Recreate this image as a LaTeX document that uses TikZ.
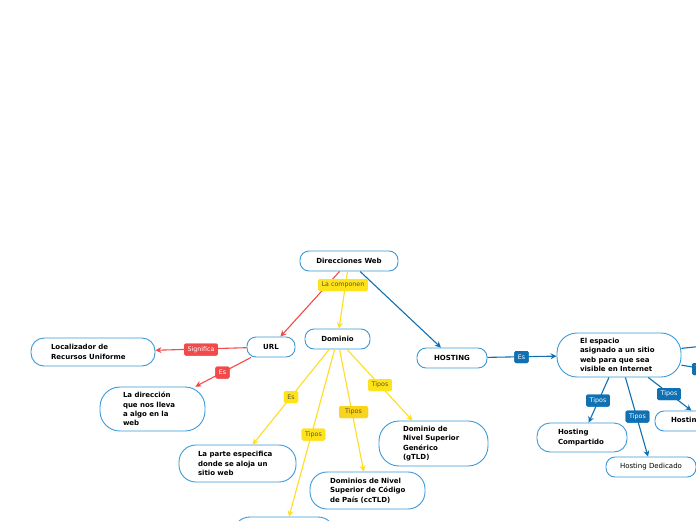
\documentclass[tikz,border=0pt]{standalone}
\usepackage{fontspec}
\setmainfont{DejaVu Sans}
\usetikzlibrary{arrows.meta}
\definecolor{bord}{HTML}{3A9AD9}
\definecolor{cred}{HTML}{F24A4A}
\definecolor{cyel}{HTML}{FFDD1F}
\definecolor{cyellab}{HTML}{FFE31A}
\definecolor{cyeldark}{HTML}{F8D41C}
\definecolor{cyeltext}{HTML}{5C5430}
\definecolor{cblue}{HTML}{0F71B3}
\tikzset{
  box/.style={draw=bord, line width=0.9pt, fill=white, inner ysep=0pt,
    font=\bfseries\fontsize{7}{9.3}\selectfont},
  boxr/.style={box, font=\fontsize{7}{9.3}\selectfont},
  lab/.style={rectangle, rounded corners=1.5pt, inner xsep=3.5pt, inner ysep=0pt,
    minimum height=12pt, font=\fontsize{6.3}{7}\selectfont},
  labred/.style={lab, fill=cred, text=white},
  labyel/.style={lab, fill=cyellab, text=cyeltext},
  labyeld/.style={lab, fill=cyeldark, text=cyeltext},
  labblue/.style={lab, fill=cblue, text=white},
  conn/.style={line width=1.1pt, -{Stealth[length=6pt,width=6pt]}},
  redc/.style={conn, draw=cred, color=cred},
  yelc/.style={conn, draw=cyel, color=cyel},
  bluec/.style={conn, draw=cblue, color=cblue},
}
\begin{document}
\begin{tikzpicture}[x=1pt,y=-1pt]
\useasboundingbox (0,0) rectangle (696,520);
\clip (0,0) rectangle (696,520);
\fill[white] (0,0) rectangle (696,520);

% nodes
\node[box, rounded corners=9pt, minimum width=98pt, minimum height=20pt] (dw) at (349,261) {Direcciones Web};
\node[box, rounded corners=9pt, minimum width=48pt, minimum height=20pt] (url) at (271,347) {URL};
\node[box, rounded corners=9pt, minimum width=65pt, minimum height=20pt] (dom) at (337.5,339) {Dominio};
\node[box, rounded corners=9pt, minimum width=70pt, minimum height=20pt] (host) at (452,358) {HOSTING};
\node[box, rounded corners=13pt, minimum height=28pt, inner xsep=20pt, text width=84pt, align=left] (loc) at (93,352) {Localizador de\\Recursos~Uniforme};
\node[box, rounded corners=20pt, minimum height=44pt, inner xsep=23pt, text width=59pt, align=left] (ladir) at (152.5,409) {La dirección\\que~nos~lleva\\a~algo~en~la\\web};
\node[box, rounded corners=17pt, minimum height=37pt, inner xsep=19pt, text width=79pt, align=left] (parte) at (237.5,463.5) {La~parte~especifica\\donde~se~aloja~un\\sitio web};
\node[box, rounded corners=17pt, minimum height=37pt, inner xsep=20pt, text width=75pt, align=left] (cctld) at (367.5,490.5) {Dominios~de~Nivel\\Superior~de~Código\\de~País~(ccTLD)};
\node[box, rounded corners=20pt, minimum height=45pt, inner xsep=24pt, text width=61pt, align=left] (gtld) at (433.5,443.5) {Dominio de\\Nivel~Superior\\Genérico\\(gTLD)};
\node[box, rounded corners=17pt, minimum width=102pt, minimum height=36pt] (bot) at (284,535) {};
\node[box, rounded corners=20pt, minimum height=44pt, inner xsep=23pt, text width=78pt, align=left] (esp) at (619,355) {El espacio\\asignado~a~un~sitio\\web~para~que~sea\\visible~en~Internet};
\node[box, rounded corners=13pt, minimum height=29pt, inner xsep=21pt, text width=48pt, align=left] (comp) at (582,437.5) {Hosting\\Compartido};
\node[boxr, rounded corners=9pt, minimum width=90pt, minimum height=20pt] (ded) at (651,467) {Hosting Dedicado};
\node[box, rounded corners=9pt, minimum height=20pt, inner xsep=16pt, text width=68pt, align=left] (hostx) at (705,421) {Hosting};
\coordinate (offA) at (760,340);
\coordinate (offB) at (760,378);

% labels
\node[labyel] (lcomp) at (343,285) {La componen};
\node[labred] (lsig) at (201,349.5) {Significa};
\node[labred] (les1) at (222.5,372.5) {Es};
\node[labyel] (les2) at (291,397) {Es};
\node[labyel] (lt1) at (313.5,434.5) {Tipos};
\node[labyeld, minimum width=29pt] (lt2) at (353.5,412) {Tipos};
\node[labyel] (lt3) at (380,385) {Tipos};
\node[labblue] (les3) at (521.5,357) {Es};
\node[labblue] (lt4) at (598,400.5) {Tipos};
\node[labblue] (lt5) at (637.5,416.5) {Tipos};
\node[labblue] (lt6) at (669,394) {Tipos};
\node[labblue] (lt7) at (704,369) {Tipos};

% connectors
\draw[redc] (dw) -- (url);
\draw[yelc] (dw) -- (dom);
\draw[bluec] (dw) -- (host);
\draw[redc] (url) -- (loc);
\draw[redc] (url) -- (ladir);
\draw[yelc] (dom) -- (parte);
\draw[yelc] (dom) -- (bot);
\draw[yelc] (dom) -- (cctld);
\draw[yelc] (dom) -- (gtld);
\draw[bluec] (host) -- (esp);
\draw[bluec] (esp) -- (comp);
\draw[bluec] (esp) -- (ded);
\draw[bluec] (esp) -- (hostx);
\draw[bluec] (esp) -- (offA);
\draw[bluec] (esp) -- (offB);

% labels on top
\node[labyel] at (lcomp) {La componen};
\node[labred] at (lsig) {Significa};
\node[labred] at (les1) {Es};
\node[labyel] at (les2) {Es};
\node[labyel] at (lt1) {Tipos};
\node[labyeld, minimum width=29pt] at (lt2) {Tipos};
\node[labyel] at (lt3) {Tipos};
\node[labblue] at (les3) {Es};
\node[labblue] at (lt4) {Tipos};
\node[labblue] at (lt5) {Tipos};
\node[labblue] at (lt6) {Tipos};
\node[labblue] at (lt7) {Tipos};
\end{tikzpicture}
\end{document}
